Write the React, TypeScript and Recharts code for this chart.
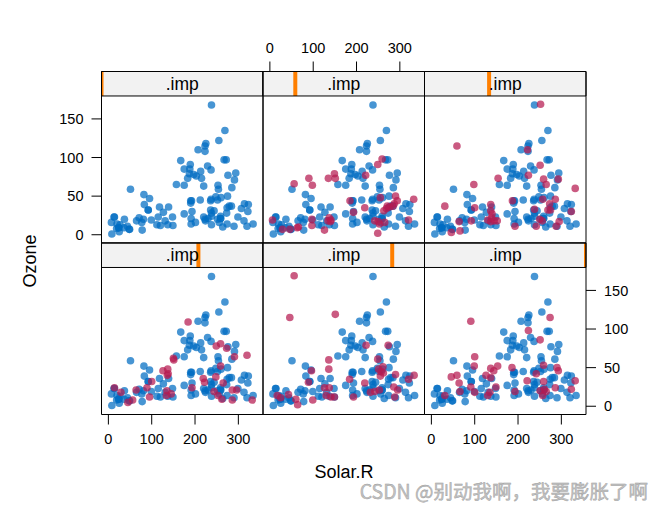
import React from 'react';
import { ScatterChart, Scatter, XAxis, YAxis, ReferenceArea } from 'recharts';

// Observed (complete) cases: Solar.R and Ozone
const obsSolar = [190,118,149,313,299,99,19,256,290,274,65,334,307,78,322,44,8,320,25,92,13,252,223,279,127,291,323,148,191,284,37,120,137,269,248,236,175,314,276,267,272,175,264,175,48,260,274,285,187,220,7,294,223,81,82,213,275,253,254,83,24,77,255,229,207,192,273,157,71,51,115,244,190,259,36,212,238,215,203,225,237,188,167,197,183,189,95,92,252,220,230,259,236,259,238,24,112,237,224,27,238,201,238,14,139,49,20,193,191,131,223];
const obsOzone = [41,36,12,18,23,19,8,16,11,14,18,14,34,6,30,11,1,11,4,32,23,45,115,37,29,71,39,23,21,37,20,12,13,135,49,32,64,40,77,97,97,85,10,27,7,48,35,61,79,63,16,80,108,20,52,82,50,64,59,39,9,16,122,89,110,44,28,65,22,59,23,31,44,21,9,45,168,73,76,118,84,85,96,78,73,91,47,32,20,23,21,24,44,21,28,9,13,46,18,13,24,16,13,23,36,7,14,30,14,18,20];

// Imputed points [Solar.R, Ozone] for imputations 1..5
const imp1: [number, number][] = [[6,19],[29,7],[46,7],[63,9],[56,66],[90,73],[98,64],[97,20],[97,12],[126,6],[135,73],[149,79],[151,73],[137,22],[141,19],[134,18],[185,44],[193,29],[221,77],[219,35],[249,91],[259,98],[242,18],[255,48],[249,2],[263,31],[265,16],[253,14],[271,37],[276,36],[284,37],[290,50],[294,44],[320,19],[332,46],[269,34],[140,17],[287,40],[250,17],[66,10]];
const imp2: [number, number][] = [[252,169],[59,115],[222,110],[251,90],[154,73],[224,77],[98,65],[259,72],[265,65],[293,72],[332,60],[31,37],[100,35],[137,39],[137,31],[140,27],[130,19],[137,17],[145,18],[152,18],[64,17],[46,3],[66,5],[92,18],[187,44],[193,11],[238,33],[257,46],[242,11],[256,18],[273,40],[275,32],[286,46],[269,32],[288,11],[295,17],[323,30],[250,20],[139,22]];
const imp3: [number, number][] = [[184,109],[320,66],[249,78],[259,81],[273,75],[291,64],[151,60],[126,46],[137,48],[136,40],[100,32],[14,24],[29,18],[64,21],[89,24],[45,5],[56,8],[95,12],[135,20],[145,16],[134,14],[219,36],[222,31],[193,24],[248,38],[259,52],[265,30],[253,14],[262,9],[286,8],[286,21],[296,21],[332,8],[244,19],[150,62],[138,42]];
const imp4: [number, number][] = [[56,169],[46,115],[151,119],[273,79],[222,79],[249,61],[136,60],[136,48],[96,46],[89,31],[126,24],[137,24],[130,14],[141,12],[149,12],[99,8],[60,9],[64,2],[17,14],[25,11],[43,15],[184,35],[193,12],[219,30],[242,19],[253,21],[251,48],[257,45],[262,43],[255,39],[261,51],[290,41],[286,25],[295,21],[288,12],[320,35],[333,40],[232,18]];
const imp5: [number, number][] = [[91,110],[274,115],[224,98],[251,86],[100,64],[99,52],[46,38],[59,40],[64,30],[31,14],[66,19],[91,25],[100,18],[137,49],[144,46],[153,52],[126,40],[137,37],[149,25],[135,18],[186,50],[193,19],[221,33],[242,42],[259,53],[259,32],[251,20],[261,22],[265,19],[257,14],[286,24],[290,50],[293,46],[323,22],[332,33],[130,14]];

const imputations: [number, number][][] = [[], imp1, imp2, imp3, imp4, imp5];
const impLevels = [0, 1, 2, 3, 4, 5];
const xTicks = [0, 100, 200, 300];
const yTicks = [0, 50, 100, 150];
const stripLabel = '.imp';
const xLabel = 'Solar.R';
const yLabel = 'Ozone';
const watermark = 'CSDN @别动我啊，我要膨胀了啊';

const W = 662, H = 512;
const colEdges = [101.5, 263, 424.5, 586];
const rowEdges = [71.5, 243, 414.5];
const X0 = -15.9, X1 = 356.9;
const Y0 = -10.7, YS = 179.7, Y1 = 211.4;
const BLUE = '#006CC2';
const RED = '#B61A51';
const FONT = 'Arial, "Liberation Sans", sans-serif';
const TS = 10;
const AXW = 40, AXH = 30;

const obsData = obsSolar.map((s, i) => ({ x: s, y: obsOzone[i] }));

const dot = (color: string) => (p: any) => (
  <circle cx={p.cx} cy={p.cy} r={3.8} fill={color} fillOpacity={0.72} />
);

function Panel({ k }: { k: number }) {
  const r = k < 3 ? 0 : 1;
  const c = k % 3;
  const left = colEdges[c], right = colEdges[c + 1];
  const top = rowEdges[r], bottom = rowEdges[r + 1];
  const margin = { left: left - AXW, right: W - right - AXW, top: top - AXH, bottom: H - bottom - AXH };
  const impData = imputations[k].map(([x, y]) => ({ x, y }));
  const barW = 2 / ((right - left) / (X1 - X0));
  const centre = X0 + (impLevels[k] / 5) * (X1 - X0);
  const bx1 = Math.max(X0, centre - barW), bx2 = Math.min(X1, centre + barW);
  const tickStyle = { fontSize: 14.5, fill: '#000', fontFamily: FONT };
  const showTop = r === 0, topLab = r === 0 && c === 1;
  const showBot = r === 1, botLab = r === 1 && c !== 1;
  const showL = c === 0, lLab = c === 0 && r === 0;
  const showR = c === 2, rLab = c === 2 && r === 1;
  return (
    <div style={{ position: 'absolute', left: 0, top: 0 }}>
      <ScatterChart width={W} height={H} margin={margin} style={{ fontFamily: FONT }}>
        <XAxis xAxisId="b" orientation="bottom" type="number" dataKey="x" domain={[X0, X1]} allowDataOverflow ticks={xTicks} interval={0}
          height={AXH} axisLine={false} tickLine={showBot ? { stroke: '#000' } : false} tickSize={TS} tickMargin={9} tick={botLab ? tickStyle : false} />
        <XAxis xAxisId="t" orientation="top" type="number" dataKey="x" domain={[X0, X1]} allowDataOverflow ticks={xTicks} interval={0}
          height={AXH} axisLine={false} tickLine={showTop ? { stroke: '#000' } : false} tickSize={TS} tickMargin={9} tick={topLab ? tickStyle : false} />
        <YAxis yAxisId="l" orientation="left" type="number" dataKey="y" domain={[Y0, Y1]} allowDataOverflow ticks={yTicks} interval={0}
          width={AXW} axisLine={false} tickLine={showL ? { stroke: '#000' } : false} tickSize={TS} tickMargin={8} tick={lLab ? tickStyle : false} />
        <YAxis yAxisId="r" orientation="right" type="number" dataKey="y" domain={[Y0, Y1]} allowDataOverflow ticks={yTicks} interval={0}
          width={AXW} axisLine={false} tickLine={showR ? { stroke: '#000' } : false} tickSize={TS} tickMargin={8} tick={rLab ? tickStyle : false} />
        <ReferenceArea xAxisId="b" yAxisId="l" x1={X0} x2={X1} y1={YS} y2={Y1} fill="#F2F2F2" fillOpacity={1} stroke="none"
          label={{ value: stripLabel, position: 'center', fontSize: 17.5, fill: '#000', fontFamily: FONT }} />
        <ReferenceArea xAxisId="b" yAxisId="l" x1={bx1} x2={bx2} y1={YS} y2={Y1} fill="#FF7F00" fillOpacity={1} stroke="none" />
        <ReferenceArea xAxisId="b" yAxisId="l" x1={X0} x2={X1} y1={YS} y2={Y1} fill="none" stroke="#000" strokeWidth={1} />
        <ReferenceArea xAxisId="b" yAxisId="l" x1={X0} x2={X1} y1={Y0} y2={Y1} fill="none" stroke="#000" strokeWidth={1} />
        <Scatter xAxisId="b" yAxisId="l" data={obsData} shape={dot(BLUE)} isAnimationActive={false} />
        {impData.length > 0 && (
          <Scatter xAxisId="b" yAxisId="l" data={impData} shape={dot(RED)} isAnimationActive={false} />
        )}
      </ScatterChart>
    </div>
  );
}

export default function App() {
  return (
    <div style={{ position: 'relative', width: W, height: H, background: '#fff', overflow: 'hidden' }}>
      <style>{`body{margin:0;background:#fff}`}</style>
      {[0, 1, 2, 3, 4, 5].map((k) => <Panel key={k} k={k} />)}
      <svg width={W} height={H} style={{ position: 'absolute', left: 0, top: 0, pointerEvents: 'none' }}>
        <text x={30} y={261} transform="rotate(-90 30 261)" textAnchor="middle" dominantBaseline="central"
          fontSize={18} fontFamily={FONT} fill="#000">{yLabel}</text>
        <text x={344} y={472} textAnchor="middle" dominantBaseline="central" fontSize={18} fontFamily={FONT} fill="#000">{xLabel}</text>
        <text x={648} y={499} textAnchor="end" fontSize={19.5} fontFamily='"Noto Sans CJK SC", sans-serif'
          fill="#c4c4c4" stroke="#9a9a9a" strokeWidth={0.4}>{watermark}</text>
      </svg>
    </div>
  );
}
